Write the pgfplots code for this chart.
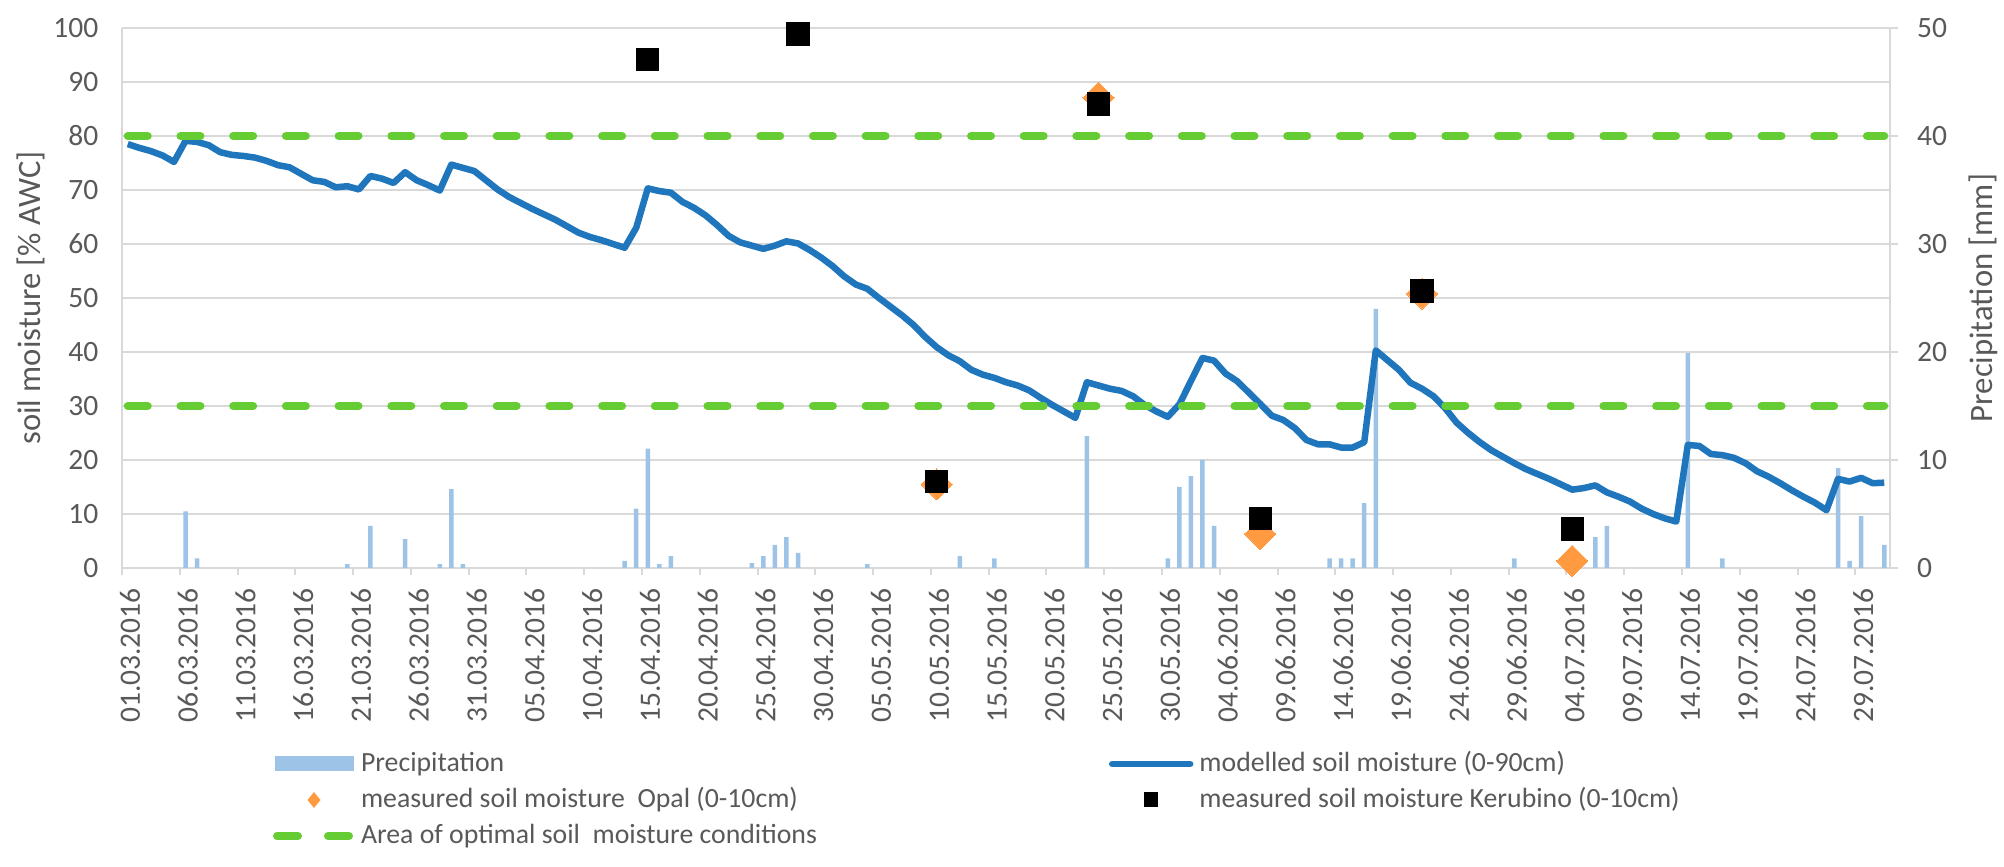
\documentclass[border=0pt]{standalone}
\usepackage{fontspec}
\setmainfont{Carlito}
\usepackage{pgfplots}
\pgfplotsset{compat=1.18}

\definecolor{barblue}{HTML}{9DC3E6}
\definecolor{lineblue}{HTML}{1F76BC}
\definecolor{optgreen}{HTML}{66CC33}
\definecolor{opal}{HTML}{FF9A40}
\definecolor{gridgray}{HTML}{D9D9D9}
\definecolor{txtgray}{HTML}{595959}

\pgfplotsset{
  common/.style={
    at={(0,0)}, anchor=south west, scale only axis,
    width=176.8mm, height=54mm,
    xmin=0, xmax=153,
    /pgf/number format/assume math mode=true,
    tick label style={font=\fontsize{8.4}{10}\selectfont, text=txtgray},
    label style={font=\fontsize{9.3}{11}\selectfont, text=txtgray},
    axis line style={draw=gridgray, line width=0.2mm},
    tick style={draw=gridgray, line width=0.2mm},
  },
}

\begin{document}
\begin{tikzpicture}
\useasboundingbox (-12.2mm,-29.9mm) rectangle (188.2mm,56.8mm);

% precipitation, right axis
\begin{axis}[common,
  ymin=0, ymax=50,
  axis y line*=right, axis x line*=bottom,
  xtick={0,5,...,150},
  xticklabels={01.03.2016,06.03.2016,11.03.2016,16.03.2016,21.03.2016,26.03.2016,31.03.2016,
    05.04.2016,10.04.2016,15.04.2016,20.04.2016,25.04.2016,30.04.2016,05.05.2016,10.05.2016,
    15.05.2016,20.05.2016,25.05.2016,30.05.2016,04.06.2016,09.06.2016,14.06.2016,19.06.2016,
    24.06.2016,29.06.2016,04.07.2016,09.07.2016,14.07.2016,19.07.2016,24.07.2016,29.07.2016},
  xticklabel style={xshift=0.8mm, yshift=-1.2mm, rotate=90, anchor=east, inner sep=0pt},
  ytick={0,10,...,50}, minor ytick={5,15,...,45},
  tick align=outside, major tick length=0.75mm, minor tick length=0pt,
  ymajorgrids, yminorgrids,
  major grid style={draw=gridgray, line width=0.2mm},
  minor grid style={draw=gridgray, line width=0.2mm},
  yticklabel style={anchor=west, inner sep=0pt, xshift=1.9mm},
  ylabel={Precipitation [mm]},
  ylabel style={at={(axis description cs:1.0526,0.5)}, anchor=center},
]
\addplot[ybar, bar width=0.45mm, fill=barblue, draw=none] coordinates {
  (5.5,5.25) (6.5,0.9) (19.5,0.35) (21.5,3.9) (24.5,2.7) (27.5,0.35) (28.5,7.3) (29.5,0.35)
  (43.5,0.65) (44.5,5.5) (45.5,11.05) (46.5,0.35) (47.5,1.1) (54.5,0.45) (55.5,1.1)
  (56.5,2.15) (57.5,2.85) (58.5,1.4) (64.5,0.35) (72.5,1.1) (75.5,0.9) (83.5,12.2)
  (90.5,0.9) (91.5,7.5) (92.5,8.5) (93.5,10.0) (94.5,3.9) (104.5,0.9) (105.5,0.9)
  (106.5,0.9) (107.5,6.0) (108.5,24.0) (120.5,0.9) (127.5,2.85) (128.5,3.9) (135.5,19.9)
  (138.5,0.9) (148.5,9.25) (149.5,0.65) (150.5,4.8) (152.5,2.15)
};
\end{axis}

% soil moisture, left axis
\begin{axis}[common,
  ymin=0, ymax=100,
  axis y line*=left, axis x line=none,
  ytick={0,10,...,100}, major tick length=0pt,
  yticklabel style={anchor=east, inner sep=0pt, xshift=-2.3mm},
  ylabel={soil moisture [\% AWC]},
  ylabel style={at={(axis description cs:-0.0515,0.5)}, anchor=center},
  clip=false,
  legend columns=2,
  legend cell align=left,
  legend style={at={(axis description cs:0,0)}, anchor=north west,
    xshift=15.1mm, yshift=-18.15mm, draw=none, fill=none,
    inner sep=0pt, outer sep=0pt,
    font=\fontsize{7.9}{9.5}\selectfont, text=txtgray,
    nodes={inner sep=0pt, text height=2.2mm, text depth=0.7mm},
    row sep=0.7mm, column sep=0.6mm,
    /tikz/column 2/.style={column sep=29.2mm}},
]
\addlegendimage{legend image code/.code={
  \path[draw=none, fill=none] (0mm,-1mm) rectangle (8mm,1mm);
  \fill[barblue, draw=none] (0mm,-0.75mm) rectangle (7.9mm,0.75mm);}}
\addlegendentry{Precipitation}

\addplot[lineblue, line width=0.65mm, line join=round, mark=none,
  legend image code/.code={
    \path[draw=none, fill=none] (0mm,-1mm) rectangle (8mm,1mm);
    \draw[lineblue, solid, line width=0.65mm, line cap=round] (0.3mm,0mm) -- (8.1mm,0mm);}]
coordinates {
  (0.5,78.5) (1.5,77.8) (2.5,77.2) (3.5,76.4) (4.5,75.2) (5.5,79.1) (6.5,78.9) (7.5,78.3)
  (8.5,77.0) (9.5,76.5) (10.5,76.3) (11.5,76.0) (12.5,75.4) (13.5,74.6) (14.5,74.2)
  (15.5,73.0) (16.5,71.8) (17.5,71.5) (18.5,70.5) (19.5,70.7) (20.5,70.1) (21.5,72.6)
  (22.5,72.1) (23.5,71.3) (24.5,73.3) (25.5,71.8) (26.5,70.9) (27.5,69.9) (28.5,74.7)
  (29.5,74.1) (30.5,73.5) (31.5,71.8) (32.5,70.1) (33.5,68.7) (34.5,67.6) (35.5,66.5)
  (36.5,65.5) (37.5,64.5) (38.5,63.3) (39.5,62.1) (40.5,61.3) (41.5,60.7) (42.5,60.0)
  (43.5,59.3) (44.5,63.0) (45.5,70.3) (46.5,69.8) (47.5,69.5) (48.5,67.8) (49.5,66.7)
  (50.5,65.3) (51.5,63.5) (52.5,61.5) (53.5,60.3) (54.5,59.7) (55.5,59.1) (56.5,59.7)
  (57.5,60.5) (58.5,60.1) (59.5,58.9) (60.5,57.5) (61.5,55.9) (62.5,54.0) (63.5,52.5)
  (64.5,51.7) (65.5,50.0) (66.5,48.4) (67.5,46.8) (68.5,45.0) (69.5,42.8) (70.5,40.9)
  (71.5,39.4) (72.5,38.3) (73.5,36.7) (74.5,35.8) (75.5,35.2) (76.5,34.4) (77.5,33.8)
  (78.5,32.9) (79.5,31.5) (80.5,30.2) (81.5,29.0) (82.5,27.8) (83.5,34.4) (84.5,33.8)
  (85.5,33.2) (86.5,32.8) (87.5,31.8) (88.5,30.2) (89.5,29.0) (90.5,28.0) (91.5,30.3)
  (92.5,34.6) (93.5,38.9) (94.5,38.4) (95.5,36.0) (96.5,34.6) (97.5,32.5) (98.5,30.4)
  (99.5,28.2) (100.5,27.4) (101.5,25.9) (102.5,23.7) (103.5,22.9) (104.5,22.9) (105.5,22.3)
  (106.5,22.3) (107.5,23.3) (108.5,40.3) (109.5,38.5) (110.5,36.7) (111.5,34.3) (112.5,33.2)
  (113.5,31.8) (114.5,29.6) (115.5,26.9) (116.5,25.0) (117.5,23.3) (118.5,21.8) (119.5,20.6)
  (120.5,19.4) (121.5,18.3) (122.5,17.4) (123.5,16.5) (124.5,15.5) (125.5,14.5) (126.5,14.8)
  (127.5,15.3) (128.5,14.0) (129.5,13.2) (130.5,12.3) (131.5,11.0) (132.5,10.0) (133.5,9.2)
  (134.5,8.6) (135.5,22.8) (136.5,22.6) (137.5,21.1) (138.5,20.9) (139.5,20.4) (140.5,19.4)
  (141.5,17.9) (142.5,16.9) (143.5,15.7) (144.5,14.4) (145.5,13.2) (146.5,12.1) (147.5,10.7)
  (148.5,16.5) (149.5,16.0) (150.5,16.7) (151.5,15.7) (152.5,15.8)
};
\addlegendentry{modelled soil moisture (0-90cm)}

\addplot[opal, only marks, mark=square*, mark size=1.1mm,
  mark options={rotate=45, fill=opal, draw=opal, line width=0pt},
  legend image code/.code={
    \path[draw=none, fill=none] (0mm,-1mm) rectangle (8mm,1mm);
    \fill[opal, draw=none] (3.9mm,0.8mm) -- (4.55mm,0mm) -- (3.9mm,-0.8mm) -- (3.25mm,0mm) -- cycle;}]
coordinates {(84.5,87.1) (70.5,15.5) (98.5,6.3) (112.5,50.8) (125.5,1.3)};
\addlegendentry{measured soil moisture\ \ Opal (0-10cm)}

\addplot[black, only marks, mark=square*, mark size=1.12mm,
  mark options={fill=black, draw=black, line width=0pt},
  legend image code/.code={
    \path[draw=none, fill=none] (0mm,-1mm) rectangle (8mm,1mm);
    \fill[black, draw=none] (3.5mm,-0.75mm) rectangle (4.9mm,0.75mm);}]
coordinates {(45.5,94.2) (58.5,98.9) (84.5,85.9) (70.5,16.0) (98.5,9.2) (112.5,51.3) (125.5,7.2)};
\addlegendentry{measured soil moisture Kerubino (0-10cm)}

\addplot[optgreen, line width=0.8mm, line cap=round, dash pattern=on 2.0mm off 3.27mm,
  legend image code/.code={
    \path[draw=none, fill=none] (0mm,-1mm) rectangle (8mm,1mm);
    \draw[optgreen, solid, line width=0.8mm, line cap=round] (0.2mm,0mm) -- (2.3mm,0mm) (5.3mm,0mm) -- (7.4mm,0mm);}]
coordinates {(0.5,80) (152.5,80)};
\addlegendentry{Area of optimal soil\ \ moisture conditions}
\addplot[optgreen, line width=0.8mm, line cap=round, dash pattern=on 2.0mm off 3.27mm, forget plot]
coordinates {(0.5,30) (152.5,30)};
\end{axis}
\end{tikzpicture}
\end{document}
